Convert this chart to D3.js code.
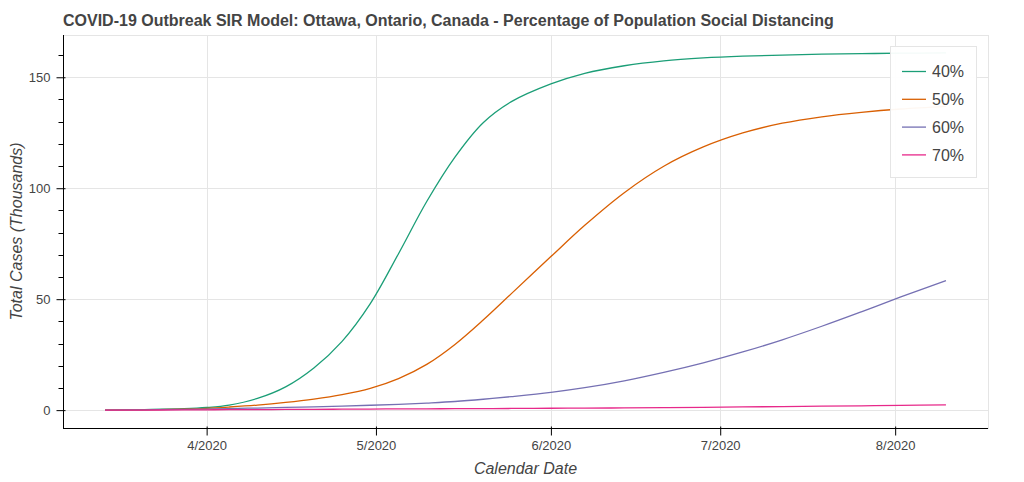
<!DOCTYPE html>
<html>
<head>
<meta charset="utf-8">
<script src="https://cdn.jsdelivr.net/npm/d3@7"></script>
<style>
  html, body { margin: 0; padding: 0; background: #fff; }
  svg { display: block; font-family: "Liberation Sans", Arial, Helvetica, sans-serif; }
</style>
</head>
<body>
<svg id="chart" width="1024" height="482"></svg>
<script>
// ---- data ----
const dates = ["2020-03-14","2020-03-21","2020-03-28","2020-04-01","2020-04-05","2020-04-10",
  "2020-04-15","2020-04-20","2020-04-25","2020-04-30","2020-05-05","2020-05-10","2020-05-15",
  "2020-05-20","2020-05-25","2020-06-01","2020-06-07","2020-06-14","2020-06-21","2020-06-28",
  "2020-07-05","2020-07-12","2020-07-19","2020-07-26","2020-08-02","2020-08-10"];
const seriesNames = ["40%", "50%", "60%", "70%"];
const sd40 = [0, 0.25, 0.65, 1.2, 2.3, 5.3, 10.5, 19, 31, 48, 70.5, 94, 114, 129.5, 139, 147,
  151.8, 155.2, 157.4, 158.7, 159.5, 160.0, 160.4, 160.65, 160.85, 161];
const sd50 = [0, 0.15, 0.45, 0.8, 1.4, 2.3, 3.5, 5.0, 7.0, 9.8, 14.2, 20.6, 29.6, 40.6, 52.5, 69.2,
  83.3, 98.0, 109.9, 118.6, 124.9, 129.3, 132.2, 134.2, 135.7, 136.9];
const sd60 = [0, 0.15, 0.35, 0.5, 0.7, 0.95, 1.2, 1.5, 1.85, 2.2, 2.6, 3.2, 3.9, 4.9, 6.1, 8.0,
  10.1, 13.2, 17.0, 21.3, 26.2, 31.7, 37.8, 44.3, 51.0, 58.4];
const sd70 = [0, 0.05, 0.1, 0.15, 0.2, 0.25, 0.3, 0.35, 0.42, 0.5, 0.55, 0.6, 0.65, 0.7, 0.75, 0.85,
  0.92, 1.0, 1.1, 1.25, 1.45, 1.6, 1.78, 1.95, 2.13, 2.35];
const xTickDates = ["2020-04-01","2020-05-01","2020-06-01","2020-07-01","2020-08-01"];
const yMajorTicks = [0, 50, 100, 150];
const colors = ["#1b9e77", "#d95f02", "#7570b3", "#e7298a"];

(function () {
// ---- layout ----
const svg = d3.select("#chart");
const pLeft = 63, pRight = 988, pTop = 35, pBottom = 428;
const parse = d3.timeParse("%Y-%m-%d");
const dts = dates.map(parse);
const allSeries = [sd40, sd50, sd60, sd70];

const t0 = +dts[0], t1 = +dts[dts.length - 1];
const xPad = (t1 - t0) * 0.05;
const x = d3.scaleTime().domain([new Date(t0 - xPad), new Date(t1 + xPad)]).range([pLeft, pRight]);
const vMax = d3.max(allSeries, s => d3.max(s)), vMin = 0;
const yPad = (vMax - vMin) * 0.05;
const y = d3.scaleLinear().domain([vMin - yPad, vMax + yPad]).range([pBottom, pTop]);

const textColor = "#444444";
const gridColor = "#e5e5e5";

// grid
const g = svg.append("g");
g.selectAll(".gy").data(yMajorTicks).join("line")
  .attr("x1", pLeft).attr("x2", pRight)
  .attr("y1", d => Math.round(y(d)) + 0.5).attr("y2", d => Math.round(y(d)) + 0.5)
  .attr("stroke", gridColor).attr("stroke-width", 1);
g.selectAll(".gx").data(xTickDates.map(parse)).join("line")
  .attr("y1", pTop).attr("y2", pBottom)
  .attr("x1", d => Math.round(x(d)) + 0.5).attr("x2", d => Math.round(x(d)) + 0.5)
  .attr("stroke", gridColor).attr("stroke-width", 1);
// outline
svg.append("rect").attr("x", pLeft + 0.5).attr("y", pTop + 0.5)
  .attr("width", pRight - pLeft).attr("height", pBottom - pTop)
  .attr("fill", "none").attr("stroke", gridColor).attr("stroke-width", 1);

// lines
const line = d3.line().x((d, i) => x(dts[i])).y(d => y(d)).curve(d3.curveCatmullRom.alpha(0.5));
svg.append("g").selectAll("path").data(allSeries).join("path")
  .attr("d", d => line(d))
  .attr("fill", "none")
  .attr("stroke", (d, i) => colors[i])
  .attr("stroke-width", 1.3);

// x axis
const xAxis = d3.axisBottom(x).tickValues(xTickDates.map(parse))
  .tickFormat(d => (d.getMonth() + 1) + "/" + d.getFullYear())
  .tickSizeOuter(0).tickSizeInner(7).tickPadding(5);
const gx = svg.append("g").attr("transform", `translate(0,${pBottom + 0.5})`).call(xAxis);
gx.select(".domain").attr("stroke", "#000").attr("d", `M${pLeft},0H${pRight}`);
gx.selectAll(".tick line").attr("stroke", "#000").attr("y1", -2).attr("y2", 7);
gx.selectAll(".tick text").attr("fill", textColor).attr("font-size", 13)
  .attr("font-family", "Liberation Sans, Arial, sans-serif");

// y axis
const yAxis = d3.axisLeft(y).tickValues(yMajorTicks).tickFormat(d3.format("d"))
  .tickSizeOuter(0).tickSizeInner(7).tickPadding(6);
const gy = svg.append("g").attr("transform", `translate(${pLeft + 0.5},0)`).call(yAxis);
gy.select(".domain").attr("stroke", "#000").attr("d", `M0,${pTop}V${pBottom}`);
gy.selectAll(".tick line").attr("stroke", "#000").attr("x1", 2).attr("x2", -7);
gy.selectAll(".tick text").attr("fill", textColor).attr("font-size", 13)
  .attr("font-family", "Liberation Sans, Arial, sans-serif");
// minor y ticks
const minor = d3.range(0, 170, 10).filter(v => !yMajorTicks.includes(v) && y(v) >= pTop);
gy.selectAll(".minor").data(minor).join("line")
  .attr("x1", 0).attr("x2", -5)
  .attr("y1", d => Math.round(y(d)) + 0.5).attr("y2", d => Math.round(y(d)) + 0.5)
  .attr("stroke", "#000");

// axis labels
svg.append("text").attr("x", (pLeft + pRight) / 2).attr("y", 474)
  .attr("text-anchor", "middle").attr("font-style", "italic").attr("font-size", 16)
  .attr("fill", textColor).text("Calendar Date");
svg.append("text").attr("transform", `translate(22,${(pTop + pBottom) / 2}) rotate(-90)`)
  .attr("text-anchor", "middle").attr("font-style", "italic").attr("font-size", 16)
  .attr("fill", textColor).text("Total Cases (Thousands)");

// title
svg.append("text").attr("x", pLeft).attr("y", 26)
  .attr("font-weight", "bold").attr("font-size", 16).attr("fill", textColor)
  .text("COVID-19 Outbreak SIR Model: Ottawa, Ontario, Canada - Percentage of Population Social Distancing");

// legend
const lg = svg.append("g");
lg.append("rect").attr("x", 890.5).attr("y", 46.5).attr("width", 86).attr("height", 131)
  .attr("fill", "#fff").attr("fill-opacity", 0.95).attr("stroke", gridColor);
seriesNames.forEach((name, i) => {
  const cy = 71.5 + i * 27.8;
  lg.append("line").attr("x1", 902).attr("x2", 926).attr("y1", cy).attr("y2", cy)
    .attr("stroke", colors[i]).attr("stroke-width", 1.3);
  lg.append("text").attr("x", 932).attr("y", cy).attr("dy", "0.35em")
    .attr("font-size", 16).attr("fill", textColor).text(name);
});
})();
</script>
</body>
</html>
